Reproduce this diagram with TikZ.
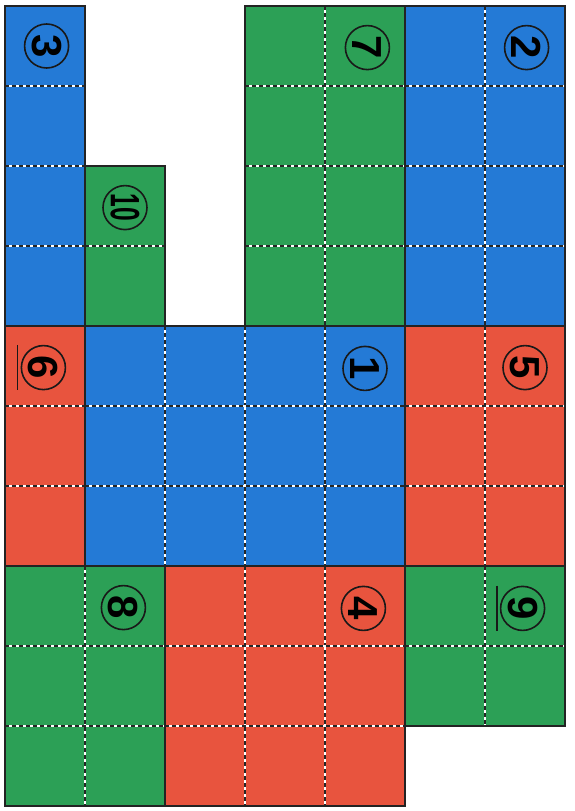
\documentclass[tikz,border=0pt]{standalone}
\usepackage{fontspec}
\setmainfont{Liberation Sans}
\usetikzlibrary{calc}
\definecolor{pblue}{RGB}{36,122,214}
\definecolor{pgreen}{RGB}{44,160,86}
\definecolor{pred}{RGB}{232,84,62}
\definecolor{edgec}{RGB}{35,35,35}
\tikzset{
  piecebound/.style={line width=2.7pt, draw=edgec, line join=miter},
  gridwhite/.style={draw=white, line width=1.1pt},
  griddash/.style={draw=black!85, line width=1.1pt, dash pattern=on 4pt off 3pt},
  numring/.style={circle, draw=black!90, line width=1.6pt, minimum size=44pt, inner sep=0pt},
  numtext/.style={rotate=-90, font=\fontsize{42}{42}\selectfont\bfseries, inner sep=0pt},
  numbar/.style={line width=1.8pt, draw=black!90},
}
\newcommand\innerlines[4]{%
  \pgfmathtruncatemacro\ca{#1+1}\pgfmathtruncatemacro\cb{#3-1}%
  \ifnum\ca>\cb\else
    \foreach \i in {\ca,...,\cb}{\draw[gridwhite] (\i,#2)--(\i,#4); \draw[griddash] (\i,#2)--(\i,#4);}%
  \fi
  \pgfmathtruncatemacro\ra{#2+1}\pgfmathtruncatemacro\rb{#4-1}%
  \ifnum\ra>\rb\else
    \foreach \j in {\ra,...,\rb}{\draw[gridwhite] (#1,\j)--(#3,\j); \draw[griddash] (#1,\j)--(#3,\j);}%
  \fi
}
\begin{document}
\begin{tikzpicture}[x=80pt,y=-80pt]
\useasboundingbox (-5pt,6pt) rectangle (569pt,-805pt);
% fills
\foreach \col/\a/\b/\c/\d in {pblue/0/0/1/4, pgreen/1/2/2/4, pgreen/3/0/5/4, pblue/5/0/7/4,
  pred/0/4/1/7, pblue/1/4/5/7, pred/5/4/7/7, pgreen/0/7/2/10, pred/2/7/5/10, pgreen/5/7/7/9}
  {\fill[\col] (\a,\b) rectangle (\c,\d);}
% inner cell lines
\innerlines{0}{0}{1}{4}
\innerlines{1}{2}{2}{4}
\innerlines{3}{0}{5}{4}
\innerlines{5}{0}{7}{4}
\innerlines{0}{4}{1}{7}
\innerlines{1}{4}{5}{7}
\innerlines{5}{4}{7}{7}
\innerlines{0}{7}{2}{10}
\innerlines{2}{7}{5}{10}
\innerlines{5}{7}{7}{9}
% borders
\foreach \a/\b/\c/\d in {0/0/1/4, 1/2/2/4, 3/0/5/4, 5/0/7/4,
  0/4/1/7, 1/4/5/7, 5/4/7/7, 0/7/2/10, 2/7/5/10, 5/7/7/9}
  {\draw[piecebound] (\a,\b) rectangle (\c,\d);}
% numbers
\foreach \nm/\x/\y in {c3/0.52/0.5, c7/4.53/0.52, c2/6.52/0.52, c6/0.48/4.52, c1/4.5/4.53,
  c5/6.5/4.52, c8/1.48/7.52, c4/4.48/7.53, c9/6.47/7.53, c10/1.5/2.52}
  {\node[numring] (\nm) at (\x,\y) {};}
\node[numtext] (t3) at (c3) {3};
\node[numtext] (t7) at (c7) {7};
\node[numtext] (t2) at (c2) {2};
\node[numtext] (t6) at (c6) {6};
\node[numtext] (t1) at (c1) {1};
\node[numtext] (t5) at (c5) {5};
\node[numtext] (t8) at (c8) {8};
\node[numtext] (t4) at (c4) {4};
\node[numtext] (t9) at (c9) {9};
\node[numtext, font=\fontsize{41}{41}\selectfont\bfseries] (t10) at (c10) {\scalebox{0.6}[1]{10}};
\draw[numbar] ($(c6.west|-c6.north)+(-3pt,0)$) -- ($(c6.west|-c6.south)+(-3pt,0)$);
\draw[numbar] ($(c9.west|-c9.north)+(-3pt,0)$) -- ($(c9.west|-c9.south)+(-3pt,0)$);
\end{tikzpicture}
\end{document}
